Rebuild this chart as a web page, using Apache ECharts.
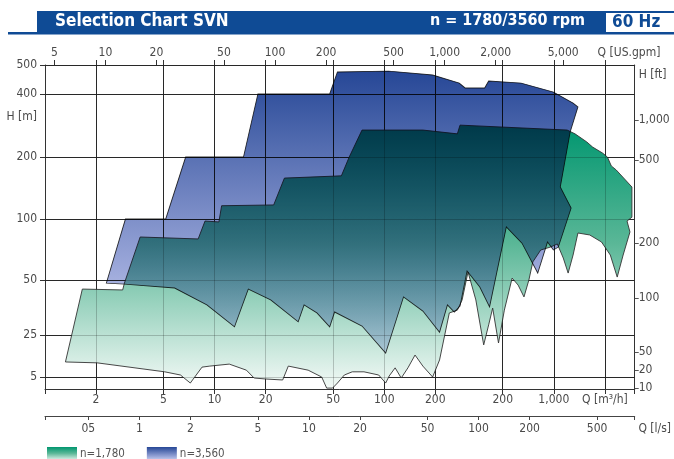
<!DOCTYPE html>
<html><head><meta charset="utf-8">
<script src="https://cdn.jsdelivr.net/npm/echarts@6/dist/echarts.min.js"></script>
<style>html,body{margin:0;padding:0;background:#fff}#c{width:674px;height:459px}</style>
</head><body><div id="c"></div>
<script>
// ---------- axis definitions (values) ----------
const flowTicks = [2, 5, 10, 20, 50, 100, 200, 500, 1000, 2000];          // Q [m3/h]
const flowTickLabels = ['2', '5', '10', '20', '50', '100', '200', '200', '1,000', 'Q [m\u00b3/h]'];
const litreTicks = [0.5, 1, 2, 5, 10, 20, 50, 100, 200, 500];              // Q [l/s]
const litreTickLabels = ['05', '1', '2', '5', '10', '20', '50', '100', '200', '500'];
const gpmTicks = [5, 10, 20, 50, 100, 200, 500, 1000, 2000, 5000];         // Q [US.gpm]
const gpmTickLabels = ['5', '10', '20', '50', '100', '200', '500', '1,000', '2,000', '5,000'];
const headTicks = [5, 25, 50, 100, 200, 400, 500];                         // H [m]
const headTickLabels = ['5', '25', '50', '100', '200', '400', '500'];
const feetTickLabels = ['10', '20', '50', '100', '200', '500', '1,000'];   // H [ft]
const feetTickHead = [3.27, 6.5, 13, 39.8, 76.1, 193, 300];                // head (m) level of each ft label
// the printed head axis is not a pure log scale: knots of the chart's own scale
const headScaleKnots = [3.16, 5, 25, 50, 100, 200, 400, 500];
const headScalePos = [0, 3.70, 16.67, 33.64, 52.47, 71.60, 91.05, 100];

// ---------- series values: outlines of the ranges, [Q m3/h, H m] ----------
const range1780 = [
  [1.66,44.6],[2.87,44.1],[2.94,48.1],[3.64,81.5],[8.0,79.7],[8.78,97.7],[10.6,96.7],[11.0,116],
  [22.3,117],[25.8,158],[55.9,162],[62.2,200],[74.0,269],[169,269],[270,258],[280,284],
  [1199,269],[1334,258],[1565,236],[1695,223],[1936,209],[2070,200],[2183,181],[2334,173],
  [2888,143],[2888,102],[2702,97.7],[2812,86.3],[2563,66.4],[2365,51.7],[2154,66.4],[1911,77.0],
  [1629,83.4],[1388,85.3],[1299,66.4],[1215,54.1],[1137,64.2],[1049,75.3],[956,72.7],[837,70.3],
  [752,61.4],[713,50],[667,40.4],[616,46.9],[568,51.1],[511,34.2],[472,18.4],[436,35.1],
  [413,28.4],[386,17.1],[347,38.9],[312,54.8],[288,38.9],[270,34.2],[242,33.0],[212,9.6],
  [193,5],[169,7.6],[152,11.6],[138,7.1],[126,4.81],[116,7.1],[107,5.2],[102,3.97],
  [92.8,5.4],[76.0,6.1],[64.8,6.1],[58.2,5.4],[53.0,3.97],[49.6,3.27],[45.8,3.27],[42.8,5],
  [35.6,6.5],[27.2,7.6],[25.2,4.46],[20.1,4.63],[17.1,4.81],[15.4,6.5],[12.2,8.2],[9.38,7.6],
  [8.43,7.3],[7.19,3.97],[6.29,5.4],[5.08,6.1],[2.03,8.6],[1.32,8.9]
];
const range3560 = [
  [2.30,48.1],[2.98,100],[5.15,100],[6.75,200],[14.8,200],[18.0,400],[47.7,400],[53.0,474],
  [106,477],[193,463],[277,435],[300,419],[391,419],[413,442],[641,435],[995,406],
  [1299,362],[1388,347],[1248,263],[1092,143],[1265,113],[1063,72.7],[995,70.3],[918,77.0],
  [804,54.1],[649,76],[525,91.3],[418,35.6],[366,45.8],[308,55.4],[280,36.0],[259,33.4],
  [236,36.5],[212,25.9],[169,33.8],[130,40.4],[102,12.5],[74,28.0],[51.0,33.4],[47.7,27.7],
  [40.1,33.0],[33.7,36.5],[31.1,29.5],[21.4,38.9],[15.8,44.6],[13.1,27.7],[9.0,36.5],[5.81,45.2],
  [2.94,47.5]
];

// ---------- helpers ----------
function h2p(h) {
  const k = headScaleKnots, p = headScalePos;
  if (h <= k[0]) return p[0];
  for (let i = 1; i < k.length; i++) {
    if (h <= k[i]) {
      const t = Math.log(h / k[i - 1]) / Math.log(k[i] / k[i - 1]);
      return p[i - 1] + t * (p[i] - p[i - 1]);
    }
  }
  return p[p.length - 1];
}
function pick(vals, labels, v, ratio) {
  for (let i = 0; i < vals.length; i++) {
    if (ratio ? Math.abs(Math.log(v / vals[i])) < 1e-3 : Math.abs(v - vals[i]) < 1e-3) return labels[i];
  }
  return '';
}
const FONT = '"DejaVu Sans Condensed", "DejaVu Sans", sans-serif';
const BLUE = '#0f4b95';
const GRID = '#333333';
const LBL = '#4a4a4a';
const G = echarts.graphic.LinearGradient;
const greenFill = () => new G(0, 0, 0, 1, [
  {offset: 0, color: '#00966f'}, {offset: 0.45, color: '#5ab797'}, {offset: 1, color: '#f4faf7'}]);
const blueFill = () => new G(0, 0, 0, 1, [
  {offset: 0, color: '#264796'}, {offset: 0.7, color: '#9ca8da'}, {offset: 1, color: '#d4d9f3'}]);

const headPos = headTicks.map(h2p);
const headLabelPos = headPos.concat([h2p(310)]);
const headLabelText = headTickLabels.concat(['H [m]']);
const feetPos = feetTickHead.map(h2p);
const feetLabelPos = feetPos.concat([h2p(463)]);
const feetLabelText = feetTickLabels.concat(['H [ft]']);
const GPM = 4.40287, LS = 1 / 3.6;
const LS_END = 833;

function rangeSeries(name, outline, fillFn, blend) {
  return {
    type: 'custom', name: name, blendMode: blend, silent: true, clip: false,
    xAxisIndex: 0, yAxisIndex: 0, z: 2,
    itemStyle: {color: fillFn()},
    data: outline.map(p => [p[0], h2p(p[1])]),
    renderItem: function (params, api) {
      if (params.dataIndex !== 0) return null;
      const pts = outline.map(p => api.coord([p[0], h2p(p[1])]));
      return {type: 'polygon', shape: {points: pts},
        style: {fill: fillFn(), stroke: '#333', lineWidth: 0.9}};
    }
  };
}

const chart = echarts.init(document.getElementById('c'), null, {renderer: 'canvas'});
chart.setOption({
  animation: false,
  backgroundColor: '#fff',
  title: [
    {text: 'Selection Chart SVN', left: 55, top: 13, padding: 0,
      textStyle: {color: '#fff', fontFamily: FONT, fontWeight: 'bold', fontSize: 17}},
    {text: 'n = 1780/3560 rpm', right: 89, top: 13, padding: 0,
      textStyle: {color: '#fff', fontFamily: FONT, fontWeight: 'bold', fontSize: 16}},
    {text: '60 Hz', left: 606, top: 13, padding: [0, 20, 0, 6], backgroundColor: '#fff',
      textStyle: {color: BLUE, fontFamily: FONT, fontWeight: 'bold', fontSize: 17, lineHeight: 19}}
  ],
  graphic: [
    {type: 'rect', z: -1, shape: {x: 8, y: 32, width: 666, height: 2.5}, style: {fill: BLUE}},
    {type: 'rect', z: -1, shape: {x: 37, y: 11, width: 637, height: 22}, style: {fill: BLUE}}
  ],
  legend: {
    left: 47, top: 447, padding: 0, itemWidth: 30, itemHeight: 14, itemGap: 22, icon: 'rect', selectedMode: false,
    textStyle: {fontSize: 11.5, color: '#555', fontFamily: FONT, padding: [0, 0, 0, -2]},
    data: [{name: 'n=1,780', itemStyle: {color: greenFill()}}, {name: 'n=3,560', itemStyle: {color: blueFill()}}]
  },
  grid: {left: 45, right: 28, top: 65, bottom: 70, containLabel: false},
  xAxis: [
    { // Q m3/h
      type: 'log', logBase: 10, min: 1, max: 3000, position: 'bottom',
      axisLine: {show: true, onZero: false, lineStyle: {color: GRID, width: 1}},
      axisTick: {show: true, customValues: [1].concat(flowTicks, [3000]), length: 5, lineStyle: {color: GRID}},
      axisLabel: {customValues: flowTicks, formatter: v => pick(flowTicks, flowTickLabels, v, true),
        color: LBL, fontSize: 12, fontFamily: FONT, margin: 5},
      splitLine: {show: true, lineStyle: {color: GRID, width: 1}},
      minorTick: {show: false}, minorSplitLine: {show: false}
    },
    { // Q l/s
      type: 'log', logBase: 10, min: LS, max: 3000 * LS, position: 'bottom', offset: 27,
      axisLine: {show: true, onZero: false, lineStyle: {color: '#444', width: 1}},
      axisTick: {show: true, customValues: [0.28].concat(litreTicks, [LS_END]), length: 4, lineStyle: {color: '#444'}},
      axisLabel: {customValues: litreTicks.concat([LS_END]),
        formatter: v => (Math.abs(Math.log(v / LS_END)) < 1e-3 ? '{q|Q [l/s]}' : pick(litreTicks, litreTickLabels, v, true)),
        rich: {q: {padding: [0, 0, 0, 40], color: LBL, fontSize: 12, fontFamily: FONT}},
        color: LBL, fontSize: 12, fontFamily: FONT, margin: 7},
      splitLine: {show: false}
    },
    { // Q US.gpm
      type: 'log', logBase: 10, min: GPM, max: 3000 * GPM, position: 'top',
      axisLine: {show: true, onZero: false, lineStyle: {color: GRID, width: 1}},
      axisTick: {show: true, customValues: gpmTicks, length: 5, lineStyle: {color: GRID}},
      axisLabel: {customValues: gpmTicks.concat([12220]),
        formatter: v => (Math.abs(Math.log(v / 12220)) < 1e-3 ? 'Q [US.gpm]' : pick(gpmTicks, gpmTickLabels, v, true)),
        color: LBL, fontSize: 12, fontFamily: FONT, margin: 6},
      splitLine: {show: false}
    },
    { // faint grid over the ranges + tick marks above the top line
      type: 'log', logBase: 10, min: 1, max: 3000, position: 'top', z: 10,
      axisLine: {show: false, onZero: false},
      axisTick: {show: true, customValues: flowTicks, length: 5, lineStyle: {color: GRID}},
      axisLabel: {show: false},
      splitLine: {show: true, lineStyle: {color: 'rgba(0,0,0,0.2)', width: 1}}
    }
  ],
  yAxis: [
    {
      type: 'value', min: 0, max: 100, position: 'left',
      axisLine: {show: true, onZero: false, lineStyle: {color: GRID, width: 1}},
      axisTick: {show: true, customValues: headPos, length: 5, lineStyle: {color: GRID}},
      axisLabel: {customValues: headLabelPos, formatter: v => pick(headLabelPos, headLabelText, v, false),
        color: LBL, fontSize: 12, fontFamily: FONT, margin: 8},
      splitLine: {show: true, lineStyle: {color: GRID, width: 1}}
    },
    {
      type: 'value', min: 0, max: 100, position: 'right',
      axisLine: {show: true, onZero: false, lineStyle: {color: GRID, width: 1}},
      axisTick: {show: true, customValues: feetPos, length: 4, lineStyle: {color: '#555'}},
      axisLabel: {customValues: feetLabelPos, formatter: v => pick(feetLabelPos, feetLabelText, v, false),
        color: LBL, fontSize: 12, fontFamily: FONT, margin: 4},
      splitLine: {show: false}
    },
    {
      type: 'value', min: 0, max: 100, position: 'left', z: 10,
      axisLine: {show: false, onZero: false}, axisTick: {show: false, customValues: headPos}, axisLabel: {show: false},
      splitLine: {show: true, lineStyle: {color: 'rgba(0,0,0,0.2)', width: 1}}
    }
  ],
  series: [
    rangeSeries('n=1,780', range1780, greenFill, 'source-over'),
    rangeSeries('n=3,560', range3560, blueFill, 'multiply')
  ]
});
</script>
</body></html>
